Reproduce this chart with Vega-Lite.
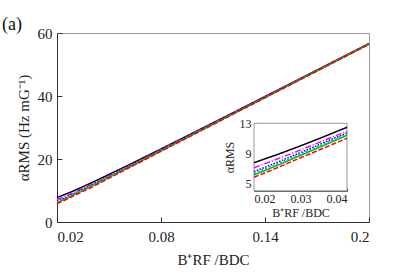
{
  "$schema": "https://vega.github.io/schema/vega-lite/v6.json",
  "width": 312,
  "height": 189,
  "autosize": "none",
  "padding": {"left": 57, "top": 33, "right": 30, "bottom": 57},
  "background": "white",
  "config": {
    "view": {"stroke": "#999", "strokeWidth": 1},
    "font": "Liberation Serif",
    "axis": {"grid": false, "labelFont": "Liberation Serif", "titleFont": "Liberation Serif", "labelColor": "#222", "titleColor": "#222", "domainColor": "#333", "tickColor": "#333", "titleFontWeight": "normal", "labelFontWeight": "normal"}
  },
  "title": {"text": "(a)", "anchor": "start", "frame": "bounds", "font": "Liberation Serif", "fontSize": 18, "fontWeight": "normal", "color": "#111", "offset": -8, "dx": -14},
  "data": {"values": [
    {"s": "s1", "x": 0.02, "y": 7.75}, {"s": "s1", "x": 0.025, "y": 8.83}, {"s": "s1", "x": 0.03, "y": 9.99}, {"s": "s1", "x": 0.035, "y": 11.21}, {"s": "s1", "x": 0.04, "y": 12.47}, {"s": "s1", "x": 0.06, "y": 17.73}, {"s": "s1", "x": 0.08, "y": 23.18}, {"s": "s1", "x": 0.1, "y": 28.70}, {"s": "s1", "x": 0.12, "y": 34.25}, {"s": "s1", "x": 0.14, "y": 39.84}, {"s": "s1", "x": 0.16, "y": 45.43}, {"s": "s1", "x": 0.18, "y": 51.04}, {"s": "s1", "x": 0.2, "y": 56.65},
    {"s": "s2", "x": 0.02, "y": 7.08}, {"s": "s2", "x": 0.025, "y": 8.23}, {"s": "s2", "x": 0.03, "y": 9.44}, {"s": "s2", "x": 0.035, "y": 10.70}, {"s": "s2", "x": 0.04, "y": 11.95}, {"s": "s2", "x": 0.06, "y": 17.40}, {"s": "s2", "x": 0.08, "y": 22.93}, {"s": "s2", "x": 0.1, "y": 28.50}, {"s": "s2", "x": 0.12, "y": 34.10}, {"s": "s2", "x": 0.14, "y": 39.70}, {"s": "s2", "x": 0.16, "y": 45.31}, {"s": "s2", "x": 0.18, "y": 50.93}, {"s": "s2", "x": 0.2, "y": 56.55},
    {"s": "s3", "x": 0.02, "y": 6.55}, {"s": "s3", "x": 0.025, "y": 7.80}, {"s": "s3", "x": 0.03, "y": 9.09}, {"s": "s3", "x": 0.035, "y": 10.42}, {"s": "s3", "x": 0.04, "y": 11.72}, {"s": "s3", "x": 0.06, "y": 17.23}, {"s": "s3", "x": 0.08, "y": 22.79}, {"s": "s3", "x": 0.1, "y": 28.39}, {"s": "s3", "x": 0.12, "y": 34.00}, {"s": "s3", "x": 0.14, "y": 39.62}, {"s": "s3", "x": 0.16, "y": 45.24}, {"s": "s3", "x": 0.18, "y": 50.87}, {"s": "s3", "x": 0.2, "y": 56.50},
    {"s": "s4", "x": 0.02, "y": 6.30}, {"s": "s4", "x": 0.025, "y": 7.59}, {"s": "s4", "x": 0.03, "y": 8.91}, {"s": "s4", "x": 0.035, "y": 10.24}, {"s": "s4", "x": 0.04, "y": 11.58}, {"s": "s4", "x": 0.06, "y": 17.12}, {"s": "s4", "x": 0.08, "y": 22.71}, {"s": "s4", "x": 0.1, "y": 28.33}, {"s": "s4", "x": 0.12, "y": 33.95}, {"s": "s4", "x": 0.14, "y": 39.57}, {"s": "s4", "x": 0.16, "y": 45.21}, {"s": "s4", "x": 0.18, "y": 50.84}, {"s": "s4", "x": 0.2, "y": 56.47},
    {"s": "s5", "x": 0.02, "y": 6.10}, {"s": "s5", "x": 0.025, "y": 7.38}, {"s": "s5", "x": 0.03, "y": 8.72}, {"s": "s5", "x": 0.035, "y": 10.05}, {"s": "s5", "x": 0.04, "y": 11.40}, {"s": "s5", "x": 0.06, "y": 16.95}, {"s": "s5", "x": 0.08, "y": 22.58}, {"s": "s5", "x": 0.1, "y": 28.20}, {"s": "s5", "x": 0.12, "y": 33.85}, {"s": "s5", "x": 0.14, "y": 39.50}, {"s": "s5", "x": 0.16, "y": 45.15}, {"s": "s5", "x": 0.18, "y": 50.80}, {"s": "s5", "x": 0.2, "y": 56.44},
    {"s": "s6", "x": 0.02, "y": 5.80}, {"s": "s6", "x": 0.025, "y": 7.07}, {"s": "s6", "x": 0.03, "y": 8.40}, {"s": "s6", "x": 0.035, "y": 9.70}, {"s": "s6", "x": 0.04, "y": 11.00}, {"s": "s6", "x": 0.06, "y": 16.75}, {"s": "s6", "x": 0.08, "y": 22.45}, {"s": "s6", "x": 0.1, "y": 28.10}, {"s": "s6", "x": 0.12, "y": 33.78}, {"s": "s6", "x": 0.14, "y": 39.45}, {"s": "s6", "x": 0.16, "y": 45.10}, {"s": "s6", "x": 0.18, "y": 50.77}, {"s": "s6", "x": 0.2, "y": 56.42}
  ]},
  "layer": [
    {
      "mark": {"type": "line", "strokeWidth": 1.5},
      "encoding": {
        "x": {"field": "x", "type": "quantitative", "scale": {"domain": [0.02, 0.2], "nice": false, "zero": false},
          "axis": {"values": [0.02, 0.08, 0.14, 0.2], "format": "~g", "tickSize": -5, "labelFontSize": 15, "labelPadding": 12, "title": "B⁺RF /BDC", "titleFontSize": 15, "titlePadding": 8}},
        "y": {"field": "y", "type": "quantitative", "scale": {"domain": [0, 60], "nice": false, "zero": false},
          "axis": {"values": [0, 20, 40, 60], "tickSize": -5, "labelFontSize": 15, "labelPadding": 10, "title": "αRMS (Hz mG⁻¹)", "titleFontSize": 15, "titlePadding": 6}},
        "color": {"field": "s", "type": "nominal", "scale": {"domain": ["s1", "s2", "s3", "s4", "s5", "s6"], "range": ["#000000", "#ff00ff", "#0000ff", "#00b0f0", "#00c000", "#ff0000"]}, "legend": null},
        "strokeDash": {"field": "s", "type": "nominal", "scale": {"domain": ["s1", "s2", "s3", "s4", "s5", "s6"], "range": [[1, 0], [6, 2, 1, 2], [1.5, 1.5], [2, 2], [1, 0], [5, 2]]}, "legend": null}
      }
    },
    {
      "layer": [
        {
          "data": {"values": [{"x0": 0.02, "x1": 0.04, "y0": 4, "y1": 13}]},
          "mark": {"type": "rect", "fill": "white", "stroke": "#999", "strokeWidth": 1},
          "encoding": {
            "x": {"field": "x0", "type": "quantitative", "scale": {"domain": [0.02, 0.04], "nice": false, "zero": false, "range": [197, 290]},
              "axis": {"orient": "bottom", "offset": -31.2, "values": [0.02, 0.03, 0.04], "format": "~g", "tickSize": -3, "labelFontSize": 12, "labelPadding": 6, "title": "B⁺RF /BDC", "titleFontSize": 12, "titlePadding": 3}},
            "x2": {"field": "x1"},
            "y": {"field": "y0", "type": "quantitative", "scale": {"domain": [4, 13], "nice": false, "zero": false, "range": [157.8, 90.3]},
              "axis": {"orient": "left", "offset": -197, "values": [5, 9, 13], "tickSize": -3, "labelFontSize": 12, "labelPadding": 6, "title": "αRMS", "titleFontSize": 12, "titlePadding": 3}},
            "y2": {"field": "y1"}
          }
        },
        {
          "transform": [{"filter": "datum.x <= 0.04"}],
          "mark": {"type": "line", "strokeWidth": 1.5},
          "encoding": {
            "x": {"field": "x", "type": "quantitative", "scale": {"domain": [0.02, 0.04], "nice": false, "zero": false, "range": [197, 290]}},
            "y": {"field": "y", "type": "quantitative", "scale": {"domain": [4, 13], "nice": false, "zero": false, "range": [157.8, 90.3]}},
            "color": {"field": "s", "type": "nominal", "legend": null},
            "strokeDash": {"field": "s", "type": "nominal", "legend": null}
          }
        }
      ]
    }
  ],
  "resolve": {"scale": {"x": "independent", "y": "independent"}, "axis": {"x": "independent", "y": "independent"}}
}
